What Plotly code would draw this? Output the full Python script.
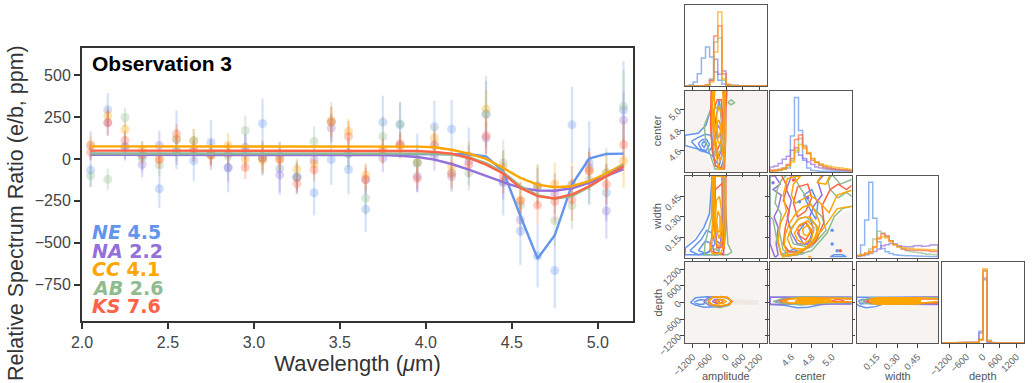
import numpy as np
import plotly.graph_objects as go

# ---------- main panel data ----------
wavelength = [2.05,2.15,2.25,2.35,2.45,2.55,2.65,2.75,2.85,2.95,3.05,3.15,3.25,3.35,3.45,3.55,
              3.65,3.75,3.85,3.95,4.05,4.15,4.25,4.35,4.45,4.55,4.65,4.75,4.85,4.95,5.05,5.15]
series_names = ["NE","NA","CC","AB","KS"]
series_scores = ["4.5","2.2","4.1","2.6","7.6"]
colors = {"NE":"#6495ED","NA":"#9370DB","CC":"#FFA500","AB":"#8FBC8F","KS":"#FF6347"}

pts_NE = [-67,294,75,16,-178,115,-10,99,-54,45,212,-58,-109,-202,-4,-63,-301,220,204,-24,192,178,16,268,-143,-430,-580,-667,204,-24,-202,292]
pts_NA = [80,218,70,-34,81,45,60,25,-50,71,6,-95,-109,-6,185,32,-123,6,85,-103,16,-105,-14,125,-133,-363,-163,-206,-153,-54,-311,232]
pts_CC = [85,258,177,55,0,120,109,20,81,0,-8,0,-62,-30,230,165,-95,55,75,-18,125,-44,16,298,-50,-244,-163,-149,-153,-69,-83,-12]
pts_AB = [-100,-121,248,6,-38,45,109,40,16,170,6,20,-109,105,220,32,-234,135,210,-24,79,-83,-83,268,-24,-276,-163,-369,-278,-123,-83,315]
pts_KS = [40,216,111,25,-4,150,45,25,32,-50,6,-4,-147,-65,220,135,-123,45,89,-117,85,-87,-34,139,-103,-252,-276,-254,-244,-73,-151,85]

err_NE = [100,100,85,90,113,175,123,135,145,100,150,158,100,135,150,147,135,158,139,175,155,175,172,200,194,204,188,226,228,250,170,293]
err_NA = [85,80,70,75,87,80,75,90,85,80,105,100,85,70,85,80,90,85,80,95,85,90,95,95,110,100,110,120,110,120,165,170]
err_CC = [50,55,50,50,55,60,70,65,75,75,80,70,65,65,85,75,70,80,75,75,80,90,85,115,100,105,130,125,130,110,125,160]
err_AB = [70,65,58,60,65,60,70,70,75,90,95,85,75,90,120,95,100,120,125,110,100,105,105,230,135,120,130,150,140,145,150,216]
err_KS = [50,75,55,55,55,60,60,65,65,70,80,65,60,65,90,90,70,75,65,65,75,85,75,115,105,115,115,125,125,115,120,145]

model_NE = [32,32,32,32,32,32,32,32,32,32,32,32,32,32,32,32,32,32,32,32,32,32,28,16,-73,-341,-595,-456,-153,2,30,32]
model_NA = [25,25,25,25,25,25,25,25,25,25,25,25,25,25,25,25,25,23,19,12,-4,-30,-63,-103,-139,-173,-188,-190,-175,-143,-103,-60]
model_CC = [75,75,75,75,75,75,75,75,75,75,75,75,75,75,75,75,75,75,75,74,70,55,32,0,-54,-113,-153,-169,-163,-133,-87,-30]
model_AB = [32,32,32,32,32,32,32,32,32,32,32,32,32,32,32,32,32,32,32,32,32,26,10,-24,-79,-163,-216,-238,-222,-167,-99,-34]
model_KS = [50,50,50,50,50,50,50,50,50,50,50,50,50,50,50,50,50,50,50,48,42,32,6,-34,-87,-173,-222,-236,-212,-163,-103,-44]

points = {"NE":pts_NE,"NA":pts_NA,"CC":pts_CC,"AB":pts_AB,"KS":pts_KS}
errors = {"NE":err_NE,"NA":err_NA,"CC":err_CC,"AB":err_AB,"KS":err_KS}
models = {"NE":model_NE,"NA":model_NA,"CC":model_CC,"AB":model_AB,"KS":model_KS}

# ---------- corner histograms (20 bins, relative heights) ----------
hist_amp = {
 "NE":[1,3,12,37,84,117,87,42,17,6,2,1,0,0,0,0,0,0,0,0],
 "NA":[0,0,0,0,1,3,17,80,35,45,3,1,0,0,0,0,0,0,0,0],
 "KS":[0,0,0,0,1,3,17,150,180,37,5,1,0,0,0,0,0,0,0,0],
 "AB":[0,0,0,0,1,3,22,132,144,17,4,4,3,1,0,0,0,0,0,0],
 "CC":[0,0,0,0,1,4,12,102,222,22,3,1,0,0,0,0,0,0,0,0]}
hist_center = {
 "NE":[3,3,5,8,12,107,222,124,35,12,5,3,2,2,2,2,2,2,2,2],
 "NA":[15,18,25,38,47,65,72,50,40,30,22,15,12,10,8,7,6,5,5,4],
 "KS":[5,6,8,12,22,40,97,110,75,55,35,28,20,15,12,10,8,7,6,5],
 "AB":[4,5,7,11,20,35,60,100,80,55,40,30,22,16,12,9,7,6,5,4],
 "CC":[3,4,6,9,18,30,65,82,70,58,40,30,24,20,18,15,13,12,10,8]}
hist_width = {
 "NE":[5,37,112,224,117,47,27,17,12,8,7,6,5,5,4,4,3,3,2,2],
 "NA":[3,5,8,12,18,25,35,38,42,40,35,33,32,32,35,36,33,35,37,38],
 "KS":[5,8,13,18,32,56,70,65,50,38,32,25,22,22,20,20,20,20,18,18],
 "AB":[5,7,12,25,55,78,73,62,50,40,32,25,20,18,16,14,12,10,9,8],
 "CC":[7,9,12,15,30,60,62,58,48,38,32,28,28,26,25,25,25,24,23,22]}
hist_depth = {
 "NE":[0,0,0,0,0,0,0,0,2,35,190,3,1,0,0,0,0,0,0,0],
 "NA":[0,0,0,0,0,0,0,0,2,30,195,3,1,0,0,0,0,0,0,0],
 "KS":[0,0,0,0,0,0,0,0,2,10,218,6,1,0,0,0,0,0,0,0],
 "AB":[0,0,0,0,0,0,0,0,2,12,215,8,1,0,0,0,0,0,0,0],
 "CC":[0,0,0,0,0,0,0,0,2,8,223,7,1,0,0,0,0,0,0,0]}

# ---------- corner contours (value pairs) ----------
amp_center = {
 "NE":[[(-1480,4.75),(-1000,4.77),(-720,4.85),(-560,5.0),(-400,5.2),(-80,5.2),(-50,4.9),(-120,4.6),(-250,4.45),(-500,4.55),(-800,4.6),(-1100,4.62),(-1480,4.65)],
       [(-1250,4.69),(-1000,4.73),(-750,4.76),(-550,4.75),(-450,4.66),(-650,4.58),(-950,4.6)],
       [(-1000,4.67),(-850,4.71),(-700,4.71),(-600,4.66),(-720,4.6),(-880,4.61)],
       [(-880,4.66),(-800,4.69),(-720,4.67),(-790,4.63)],
       [(-250,5.1),(-170,4.9),(-200,4.75),(-330,4.72),(-380,4.9)]],
 "NA":[[(-500,5.2),(-520,4.8),(-500,4.6),(-380,4.45),(-200,4.42),(-100,4.5),(-60,4.8),(-100,5.2)],
       [(-430,4.7),(-300,4.52),(-170,4.6),(-180,4.8),(-300,4.85)]],
 "AB":[[(-400,5.2),(-560,5.0),(-780,4.85),(-740,4.7),(-560,4.55),(-400,4.42),(-120,4.42),(-40,4.7),(-20,5.0),(-40,5.2)],
       [(60,5.07),(180,5.1),(300,5.07),(180,5.05)],
       [(-480,5.0),(-550,4.75),(-400,4.55),(-200,4.6),(-100,4.85),(-180,5.05)]],
 "KS":[[(-540,5.2),(-560,4.85),(-500,4.62),(-380,4.45),(-60,4.42),(-20,4.7),(-10,5.0),(30,5.2)],
       [(-440,5.0),(-440,4.75),(-320,4.6),(-170,4.7),(-120,4.9),(-170,5.1),(-320,5.1)]],
 "CC":[[(-480,5.2),(-500,5.0),(-480,4.85),(-430,4.7),(-350,4.55),(-260,4.42),(-100,4.42),(-40,4.6),(-20,4.8),(-40,5.0),(-60,5.2)],
       [(-420,5.2),(-430,4.9),(-400,4.75),(-330,4.62),(-230,4.5),(-150,4.55),(-90,4.7),(-70,4.85),(-100,5.05),(-120,5.2)],
       [(-340,4.95),(-340,4.82),(-300,4.7),(-230,4.66),(-160,4.72),(-150,4.85),(-190,5.0),(-270,5.02)],
       [(-330,4.82),(-300,4.76),(-250,4.73),(-210,4.78),(-210,4.85),(-260,4.9),(-310,4.88)]]}
amp_width = {
 "NE":[[(-1460,0.07),(-1100,0.13),(-800,0.22),(-600,0.32),(-500,0.6),(-80,0.6),(-50,0.2),(-300,0.02),(-1480,0.02)],
       [(-1300,0.05),(-900,0.13),(-700,0.2),(-500,0.18),(-400,0.1),(-600,0.04),(-1000,0.02)],
       [(-1000,0.05),(-750,0.12),(-580,0.11),(-550,0.06),(-700,0.03)]],
 "NA":[[(-500,0.6),(-480,0.3),(-520,0.1),(-400,0.02),(-100,0.03),(-60,0.2),(-60,0.6)],
       [(-400,0.6),(-400,0.3),(-350,0.12),(-200,0.1),(-130,0.3),(-150,0.6)]],
 "AB":[[(-500,0.6),(-520,0.3),(-760,0.1),(-780,0.02),(50,0.02),(200,0.04),(60,0.1),(-30,0.4),(-30,0.6)],
       [(-450,0.6),(-460,0.25),(-560,0.08),(-300,0.05),(-70,0.12),(-60,0.4),(-80,0.6)]],
 "KS":[[(-460,0.6),(-450,0.25),(-580,0.05),(-100,0.02),(-20,0.2),(-10,0.6)],
       [(-390,0.5),(-410,0.2),(-330,0.07),(-130,0.08),(-80,0.3),(-120,0.55)]],
 "CC":[[(-480,0.6),(-470,0.3),(-500,0.15),(-560,0.07),(-500,0.03),(-200,0.03),(-60,0.1),(-20,0.3),(-30,0.6)],
       [(-430,0.6),(-420,0.25),(-400,0.15),(-300,0.08),(-150,0.12),(-90,0.3),(-100,0.6)],
       [(-380,0.3),(-340,0.2),(-250,0.14),(-170,0.2),(-170,0.35),(-240,0.45),(-350,0.42)],
       [(-340,0.27),(-290,0.19),(-220,0.19),(-220,0.3),(-290,0.34)]]}
center_width = {
 "NE":[[(4.5,.02),(4.62,.06),(4.72,.03),(4.56,.01)],
       [(4.72,.46),(4.78,.36),(4.84,.28),(4.86,.4),(4.8,.5)],
       [(4.72,.1),(4.66,.18),(4.74,.26),(4.8,.18),(4.78,.1)],
       [(4.98,.005),(5.02,.02),(5.1,.02),(5.14,.005)]],
 "NA":[[(4.44,.6),(4.49,.54),(4.42,.5),(4.5,.46),(4.47,.36),(4.43,.3),(4.47,.22),(4.45,.1),(4.47,.02),(4.44,.0),(4.39,.1),(4.39,.6)],
       [(4.6,.6),(4.55,.5),(4.6,.42),(4.56,.3),(4.6,.18),(4.66,.1),(4.76,.1),(4.82,.2),(4.78,.3),(4.82,.38),(4.9,.46),(4.86,.56),(4.92,.61),(4.6,.61)]],
 "AB":[[(4.42,.28),(4.46,.12),(4.5,.03),(4.66,.02),(4.80,.05),(4.95,.18),(5.02,.3),(5.1,.36),(5.21,.38),(5.21,.61),(4.39,.61),(4.39,.3)],
       [(4.52,.05),(4.48,.2),(4.5,.32),(4.44,.4),(4.46,.5),(4.5,.57),(4.56,.61),(4.62,.61),(4.68,.52),(4.75,.44),(4.82,.36),(4.9,.30),(4.94,.2),(4.8,.08),(4.66,.04)],
       [(4.62,.1),(4.58,.18),(4.66,.28),(4.74,.3),(4.84,.24),(4.86,.14),(4.76,.08)],
       [(4.98,.5),(5.06,.44),(5.14,.48),(5.21,.44),(5.21,.58),(5.08,.54),(5.0,.61),(4.96,.56)]],
 "KS":[[(4.5,.61),(4.56,.52),(4.52,.42),(4.58,.34),(4.54,.22),(4.52,.1),(4.58,.04),(4.7,.04),(4.84,.12),(4.92,.26),(4.9,.38),(4.98,.5),(5.06,.54),(5.14,.5),(5.21,.54),(5.21,.61)],
       [(4.66,.52),(4.62,.4),(4.66,.3),(4.74,.34),(4.8,.44),(4.76,.54)],
       [(4.68,.16),(4.66,.22),(4.74,.26),(4.8,.2),(4.74,.13)]],
 "CC":[[(4.56,.02),(4.53,.09),(4.54,.17),(4.58,.25),(4.64,.32),(4.71,.37),(4.79,.39),(4.84,.33),(4.88,.25),(4.84,.14),(4.73,.06),(4.64,.02)],
       [(4.5,.02),(4.47,.12),(4.49,.25),(4.55,.34),(4.52,.46),(4.56,.58),(4.7,.61),(4.62,.54),(4.6,.46),(4.64,.4),(4.78,.46),(4.86,.42),(4.97,.33),(5.05,.46),(5.21,.5),(5.21,.38),(5.05,.36),(4.97,.27),(4.9,.2),(4.74,.07),(4.58,.01)],
       [(4.66,.13),(4.63,.18),(4.68,.24),(4.76,.27),(4.82,.22),(4.8,.14),(4.72,.1)],
       [(4.72,.17),(4.71,.21),(4.76,.24),(4.79,.2),(4.76,.16)],
       [(4.6,.07),(4.56,.14),(4.6,.22),(4.68,.29),(4.78,.3),(4.86,.22),(4.82,.12),(4.72,.06)],
       [(4.85,.55),(4.9,.61),(4.98,.61),(4.94,.54)]]}
amp_depth = {
 "NE":[[(-1280,0),(-1100,170),(-700,210),(-300,200),(0,180),(200,50),(100,-100),(-300,-150),(-800,-170),(-1100,-90)],
       [(-1150,10),(-950,100),(-750,90),(-800,-60),(-1000,-60)]],
 "NA":[[(-800,20),(-650,170),(-300,210),(50,170),(190,30),(0,-120),(-300,-150),(-600,-110)],
       [(-500,30),(-400,110),(-300,120),(-250,30),(-350,-30)]],
 "AB":[[(-750,20),(-600,150),(-300,200),(50,180),(180,40),(0,-130),(-250,-190),(-500,-120)]],
 "KS":[[(-650,30),(-500,180),(-200,215),(70,170),(210,40),(80,-80),(-200,-130),(-500,-90)],
       [(-420,30),(-300,110),(-170,100),(-120,30),(-250,-40)]],
 "CC":[[(-620,30),(-500,190),(-200,210),(50,180),(200,40),(100,-80),(-200,-110),(-500,-70)],
       [(-350,50),(-250,120),(-100,110),(0,40),(-100,-30),(-250,-30)]]}
center_depth = {
 "NE":[[(4.39,190),(5.21,190),(5.21,-40),(4.95,-40),(4.76,-170),(4.66,-190),(4.53,-100),(4.39,-70)]],
 "NA":[[(4.39,190),(5.21,190),(5.21,-50),(4.8,-50),(4.6,-60),(4.39,-60)],
       [(4.44,40),(4.5,110),(4.56,60),(4.5,0)]],
 "AB":[[(4.42,40),(4.5,130),(4.7,200),(5.0,190),(5.21,160),(5.21,0),(4.9,-30),(4.7,-90),(4.5,-30)]],
 "KS":[[(4.48,50),(4.56,130),(4.8,170),(5.21,130),(5.21,20),(4.8,10),(4.6,-30)],
       [(5.0,60),(5.06,120),(5.12,60),(5.06,10)]],
 "CC":[[(4.5,50),(4.6,130),(4.7,170),(5.21,140),(5.21,30),(4.9,0),(4.75,-40),(4.6,-30)],
       [(4.66,110),(4.72,150),(4.9,130),(5.0,80),(4.9,20),(4.72,10),(4.66,50)]]}
width_depth = {
 "NE":[[(0,190),(0.61,190),(0.61,-40),(0.2,-50),(0.14,-150),(0.07,-190),(0.02,-120),(0,-50)],
       [(0.015,70),(0.05,120),(0.1,90),(0.07,-40),(0.03,-50)]],
 "NA":[[(0.05,70),(0.1,160),(0.61,200),(0.61,-70),(0.2,-50),(0.08,-40)]],
 "AB":[[(0.03,40),(0.1,170),(0.61,170),(0.61,-30),(0.15,-60),(0.06,-30)]],
 "KS":[[(0.07,50),(0.12,140),(0.61,130),(0.61,-20),(0.15,-30),(0.09,0)]],
 "CC":[[(0.09,70),(0.14,170),(0.47,170),(0.61,120),(0.61,40),(0.47,-20),(0.14,-20)],
       [(0.11,60),(0.15,150),(0.47,150),(0.47,0),(0.15,0)]]}

dots_center_width = {"NE":[(5.0,.2),(5.0,.1),(5.05,.05),(4.68,.41)],"KS":[(5.08,.05),(4.62,.57)],"CC":[(4.78,.0),(4.52,.0)],"NA":[(4.42,.55),(4.76,.44)]}

# filled solid cores (band of many overlapping orange contours)
core_center_depth = [(4.64,70),(4.72,165),(4.84,165),(4.9,130),(4.93,60),(4.84,-50),(4.72,-65),(4.64,-20)]
core_width_depth = [(0.11,70),(0.15,170),(0.47,170),(0.47,-60),(0.15,-70),(0.11,-20)]
# brownish haze to the right of the amplitude/depth contours
haze_amp_depth = [(150,20),(500,20),(900,0),(1150,0)]

# white interiors of the contour regions
white_amp_center = [(-1480,4.75),(-1000,4.77),(-720,4.85),(-560,5.0),(-500,5.2),(-20,5.2),(-20,4.8),(-100,4.42),(-400,4.42),(-800,4.6),(-1480,4.65)]
white_amp_width = [(-1460,0.07),(-800,0.22),(-560,0.3),(-480,0.6),(-30,0.6),(-30,0.3),(60,0.1),(200,0.04),(-780,0.02),(-1480,0.02)]
white_center_width = [(4.39,.61),(5.21,.61),(5.21,.38),(5.0,.27),(4.87,.13),(4.72,.03),(4.58,.01),(4.5,.05),(4.47,.15),(4.39,.22)]
white_amp_depth = [(-1280,0),(-1100,170),(-700,210),(-300,210),(50,180),(200,50),(100,-100),(-300,-150),(-800,-170),(-1100,-90)]
white_center_depth = [(4.39,190),(5.21,190),(5.21,-40),(4.95,-40),(4.76,-170),(4.66,-190),(4.53,-100),(4.39,-70)]
white_width_depth = [(0,190),(0.61,200),(0.61,-60),(0.2,-50),(0.14,-150),(0.07,-190),(0.02,-120),(0,-50)]

# ---------- panel ranges, ticks ----------
amp_range = [-1476, 1465]
center_range = [4.39, 5.19]
width_range = [0.0, 0.6]
depth_range = [-1470, 1470]
amp_ticks = [-1200,-600,0,600,1200]
center_ticks = [4.6,4.8,5.0]
width_ticks = [0.15,0.30,0.45]
depth_ticks = [-1200,-600,0,600,1200]
param_names = ["amplitude","center","width","depth"]

W, H = 1033, 383
BG = "#f6f3f1"
fig = go.Figure()

def rgba(h, a):
    h = h.lstrip("#")
    return f"rgba({int(h[:2],16)},{int(h[2:4],16)},{int(h[4:],16)},{a})"

# main panel: error bars + points first, then model lines
for s in series_names:
    fig.add_trace(go.Scatter(x=wavelength, y=points[s], mode="markers", name=s, showlegend=False,
        marker=dict(size=9, color=rgba(colors[s],0.31), line=dict(width=0)),
        error_y=dict(type="data", array=errors[s], color=rgba(colors[s],0.28), thickness=2.2, width=0),
        xaxis="x", yaxis="y"))
for s in series_names:
    fig.add_trace(go.Scatter(x=wavelength, y=models[s], mode="lines", name=s+" model", showlegend=False,
        line=dict(color=colors[s], width=2.4), xaxis="x", yaxis="y"))

layout = dict(template="none", width=W, height=H, margin=dict(l=0,r=0,t=0,b=0), paper_bgcolor="white", plot_bgcolor="white",
              font=dict(family="Liberation Sans, Arial, sans-serif", color="#444"), showlegend=False, annotations=[])

def dom_x(a,b): return [a/W, b/W]
def dom_y(t,b): return [1-b/H, 1-t/H]

layout["xaxis"] = dict(domain=dom_x(82,633), range=[2.0,5.205], anchor="y", tickvals=[2,2.5,3,3.5,4,4.5,5], automargin=False,
    ticktext=["2.0","2.5","3.0","3.5","4.0","4.5","5.0"], ticks="outside", ticklen=6, tickwidth=2, tickcolor="#333",
    showline=True, linecolor="#333", linewidth=2, mirror=True, showgrid=False, zeroline=False, tickfont=dict(size=16,color="#444"),
    title=dict(text="Wavelength (<i>μ</i>m)", font=dict(size=22,color="#333"), standoff=5))
layout["yaxis"] = dict(domain=dom_y(48,321), range=[-968,663], anchor="x", tickvals=[-750,-500,-250,0,250,500], automargin=False,
    ticktext=["−750","−500","−250","0","250","500"], ticks="outside", ticklen=6, tickwidth=2, tickcolor="#333",
    showline=True, linecolor="#333", linewidth=2, mirror=True, showgrid=False, zeroline=False, tickfont=dict(size=16,color="#444"))

ann = layout["annotations"]
ann.append(dict(text="Relative Spectrum Ratio (e/b, ppm)", xref="paper", yref="paper", x=16/W, y=1-213/H, textangle=-90,
                showarrow=False, font=dict(size=21.5,color="#333"), xanchor="center", yanchor="middle"))
ann.append(dict(text="<b>Observation 3</b>", xref="paper", yref="paper", x=90/W, y=1-64/H, showarrow=False,
                font=dict(size=21,color="black",family="Liberation Sans, Arial, sans-serif"), xanchor="left", yanchor="middle"))
for i,(s,v) in enumerate(zip(series_names,series_scores)):
    ann.append(dict(text=f"<b><i>{s}</i> {v}</b>", xref="paper", yref="paper", x=90/W, y=1-(232+18.5*i)/H, showarrow=False,
                    font=dict(size=19,color=colors[s],family="DejaVu Sans"), xanchor="left", yanchor="middle"))

# corner geometry
cols = [(685,767),(770,851.5),(856.5,938),(942,1024)]
rows = [(5,86),(90.5,172),(176,257.5),(262,343)]
ranges = [amp_range, center_range, width_range, depth_range]
ticks = [amp_ticks, center_ticks, width_ticks, depth_ticks]
tick_txt = [["−1200","−600","0","600","1200"],["4.6","4.8","5.0"],["0.15","0.30","0.45"],["−1200","−600","0","600","1200"]]

# corner axis names (placed beside the slanted tick labels, as in the figure)
for c, name in enumerate(param_names):
    ann.append(dict(text=name, xref="paper", yref="paper", x=(cols[c][0]+cols[c][1])/2/W, y=1-376/H, showarrow=False,
                    font=dict(size=11,color="#555"), xanchor="center", yanchor="middle"))
for r, name in zip([1,2,3], param_names[1:]):
    ann.append(dict(text=name, xref="paper", yref="paper", x=657/W, y=1-(rows[r][0]+rows[r][1])/2/H, showarrow=False, textangle=-90,
                    font=dict(size=11,color="#555"), xanchor="center", yanchor="middle"))

axn = 2
def add_panel(r, c):
    global axn
    n = axn; axn += 1
    xk, yk = f"xaxis{n}", f"yaxis{n}"
    hist = (r == c)
    common = dict(showgrid=False, zeroline=False, showline=True, linecolor="#555", linewidth=1.4, mirror=True, automargin=False,
                  ticks="outside", ticklen=3.5, tickwidth=1.2, tickcolor="#444", tickfont=dict(size=9.5,color="#666"))
    xa = dict(domain=dom_x(*cols[c]), range=ranges[c], anchor=f"y{n}", tickvals=ticks[c], ticktext=tick_txt[c],
              tickangle=-45, showticklabels=(r==3), **common)
    if hist:
        ya = dict(domain=dom_y(*rows[r]), range=[0,243], anchor=f"x{n}", showticklabels=False, automargin=False,
                  showgrid=False, zeroline=False, showline=True, linecolor="#555", linewidth=1.4, mirror=True, ticks="")
    else:
        ya = dict(domain=dom_y(*rows[r]), range=ranges[r], anchor=f"x{n}", tickvals=ticks[r], ticktext=tick_txt[r],
                  tickangle=-45, showticklabels=(c==0), **common)
    layout[xk], layout[yk] = xa, ya
    return f"x{n}", f"y{n}"

corner_order = ["NE","NA","AB","KS","CC"]

def add_hist(r, hist):
    xr, yr = add_panel(r, r)
    edges = np.linspace(ranges[r][0], ranges[r][1], 21)
    for s in corner_order:
        x = np.repeat(edges, 2)
        y = np.concatenate([[0], np.repeat(hist[s], 2), [0]])
        fig.add_trace(go.Scatter(x=x, y=y, mode="lines", line=dict(color=rgba(colors[s],0.7), width=1.5),
                                 xaxis=xr, yaxis=yr, name=s))

def add_contours(r, c, conts, white, core=None, dots=None, haze=None):
    xr, yr = add_panel(r, c)
    if haze:
        fig.add_trace(go.Scatter(x=[p[0] for p in haze], y=[p[1] for p in haze], mode="lines",
                                 line=dict(color="rgba(190,150,110,0.1)", width=5), xaxis=xr, yaxis=yr, hoverinfo="skip"))
    fig.add_trace(go.Scatter(x=[p[0] for p in white]+[white[0][0]], y=[p[1] for p in white]+[white[0][1]],
                             mode="lines", fill="toself", fillcolor="white", line=dict(width=0),
                             xaxis=xr, yaxis=yr, hoverinfo="skip"))
    for s in corner_order:
        xs, ys = [], []
        for poly in conts[s]:
            xs += [p[0] for p in poly] + [poly[0][0], None]
            ys += [p[1] for p in poly] + [poly[0][1], None]
        fig.add_trace(go.Scatter(x=xs, y=ys, mode="lines", line=dict(color=colors[s], width=1.5),
                                 xaxis=xr, yaxis=yr, name=s))
    if core:
        fig.add_trace(go.Scatter(x=[p[0] for p in core]+[core[0][0]], y=[p[1] for p in core]+[core[0][1]],
                                 mode="lines", fill="toself", fillcolor=colors["CC"], line=dict(color=colors["CC"],width=1),
                                 xaxis=xr, yaxis=yr))
    if dots:
        for s, d in dots.items():
            fig.add_trace(go.Scatter(x=[p[0] for p in d], y=[p[1] for p in d], mode="markers",
                                     marker=dict(size=3.5,color=colors[s]), xaxis=xr, yaxis=yr))
    return xr, yr

add_hist(0, hist_amp)
p1 = add_contours(1, 0, amp_center, white_amp_center)
add_hist(1, hist_center)
p2 = add_contours(2, 0, amp_width, white_amp_width)
p3 = add_contours(2, 1, center_width, white_center_width, dots=dots_center_width)
add_hist(2, hist_width)
p4 = add_contours(3, 0, amp_depth, white_amp_depth, haze=haze_amp_depth)
p5 = add_contours(3, 1, center_depth, white_center_depth, core=core_center_depth)
p6 = add_contours(3, 2, width_depth, white_width_depth, core=core_width_depth)
add_hist(3, hist_depth)

# panel background tone for all 2-D panels
shapes = []
for xr, yr in [p1,p2,p3,p4,p5,p6]:
    shapes.append(dict(type="rect", xref=xr+" domain", yref=yr+" domain", x0=0,x1=1,y0=0,y1=1,
                       fillcolor=BG, line=dict(width=0), layer="below"))
layout["shapes"] = shapes

fig.update_layout(**layout)
fig.write_html("out.html", config={"displayModeBar":False},
               post_script="document.body.style.margin='0';document.body.style.overflow='hidden';")
